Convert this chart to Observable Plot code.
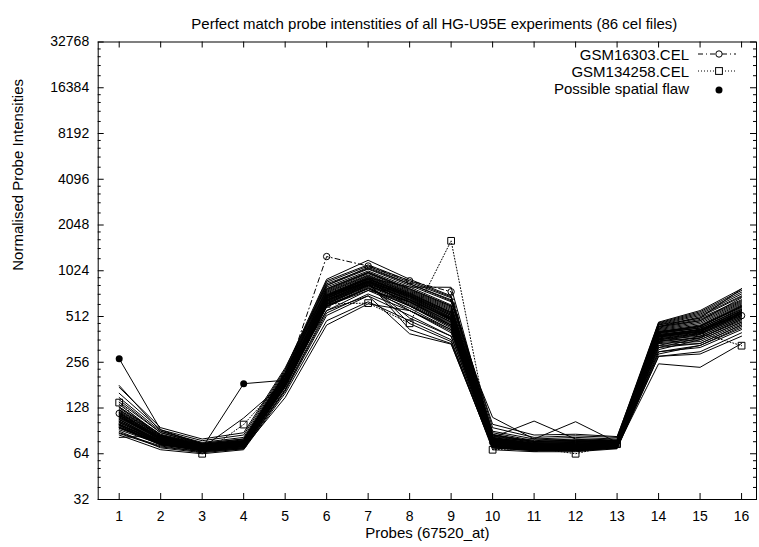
<!DOCTYPE html>
<html><head><meta charset="utf-8">
<script src="https://cdn.jsdelivr.net/npm/d3@7"></script>
<script src="https://cdn.jsdelivr.net/npm/@observablehq/plot@0.6"></script>
<style>body{margin:0;background:#fff;}</style>
</head><body><div id="chart"></div>
<script>
const title = "Perfect match probe intenstities of all HG-U95E experiments (86 cel files)";
const xLabel = "Probes (67520_at)";
const yLabel = "Normalised Probe Intensities";
const probes = [1, 2, 3, 4, 5, 6, 7, 8, 9, 10, 11, 12, 13, 14, 15, 16];
const yTicks = [32, 64, 128, 256, 512, 1024, 2048, 4096, 8192, 16384, 32768];
const legendLabels = ["GSM16303.CEL", "GSM134258.CEL", "Possible spatial flaw"];

// all other cel files (solid lines)
const bundle = [
  [95,76,68,72,180,620,820,640,470,74,70,70,72,360,380,500],
  [102,78,70,74,190,660,860,660,490,76,72,71,74,380,410,540],
  [110,80,71,75,195,700,900,700,520,78,73,73,75,400,430,580],
  [118,82,72,76,200,740,950,740,560,80,74,74,76,420,460,620],
  [125,84,73,77,210,780,1000,780,600,82,75,76,77,440,500,660],
  [88,72,66,70,170,560,760,580,420,72,68,68,70,330,340,450],
  [92,74,67,71,175,590,790,610,440,73,69,69,71,345,360,470],
  [130,86,74,78,215,820,1050,820,640,85,77,78,78,450,520,700],
  [140,88,75,80,220,860,1100,860,680,88,78,80,79,460,540,740],
  [100,75,69,73,185,640,840,650,480,75,71,70,73,370,400,520],
  [105,77,70,72,188,680,880,690,505,77,72,72,74,390,420,560],
  [115,79,71,74,192,700,870,600,450,74,70,71,73,350,390,510],
  [120,81,72,76,198,720,920,720,540,79,73,74,75,410,440,600],
  [98,73,68,71,178,600,800,560,400,72,70,69,72,320,370,480],
  [108,76,70,73,186,650,830,630,460,76,71,72,73,365,395,530],
  [112,80,71,75,194,690,910,710,530,78,74,73,75,395,430,570],
  [96,74,68,72,182,610,780,600,430,73,70,70,72,340,350,460],
  [135,85,73,78,212,760,980,760,580,81,75,75,76,430,480,640],
  [90,70,65,69,165,520,700,520,380,70,67,67,70,300,320,420],
  [85,68,64,68,160,480,640,480,360,68,66,66,69,280,290,380],
  [150,90,76,82,225,880,1120,880,690,90,80,82,80,465,550,760],
  [160,92,78,85,230,900,1200,900,700,95,82,84,82,470,560,780],
  [175,95,80,88,235,820,1080,840,650,100,85,86,83,440,510,690],
  [104,77,69,73,187,670,890,680,500,77,72,72,74,385,415,545],
  [114,79,70,74,191,690,870,670,495,76,73,72,74,375,405,535],
  [122,83,72,77,203,730,940,730,550,80,74,75,76,415,450,610],
  [94,75,67,72,179,615,810,620,450,73,70,69,72,355,370,490],
  [100,76,69,72,183,630,830,500,380,72,69,68,71,330,380,500],
  [107,78,70,73,189,655,850,460,350,71,68,68,71,310,360,470],
  [128,84,73,77,208,770,990,770,590,83,76,77,77,435,490,650],
  [112,82,72,75,196,680,860,420,340,70,67,67,70,290,330,440],
  [118,80,71,74,193,700,900,720,540,79,74,73,75,405,440,590],
  [96,74,67,70,176,600,760,640,450,74,70,70,72,350,370,490],
  [87,71,66,69,168,540,720,560,410,71,68,67,70,320,340,450],
  [145,88,74,79,218,840,1060,840,660,86,77,79,78,455,530,720],
  [108,79,71,74,190,670,870,690,510,77,72,73,74,385,420,555],
  [103,76,69,73,184,640,840,660,485,75,71,71,73,375,410,540],
  [116,81,72,76,199,710,930,730,545,80,73,74,75,405,445,600],
  [99,75,68,72,181,630,820,640,470,74,70,70,72,365,395,520],
  [124,83,73,77,205,750,960,750,570,81,75,76,76,425,470,630],
  [270,92,74,76,200,700,880,700,520,78,73,73,75,390,420,560],
  [105,78,70,185,195,680,870,680,500,77,72,72,74,380,410,540],
  [100,76,70,110,190,660,860,660,490,76,71,71,73,375,405,530],
  [82,84,70,73,180,620,820,640,470,74,70,70,72,360,390,510],
  [110,80,71,75,195,700,900,700,520,111,80,78,75,400,430,570],
  [115,80,72,76,198,710,910,710,530,82,105,80,76,405,440,590],
  [100,77,70,73,186,650,850,660,490,78,80,104,76,380,420,550],
  [120,82,72,75,195,560,700,394,337,70,68,67,70,300,330,430],
  [112,79,71,74,192,700,920,800,797,82,74,74,75,400,440,600],
  [98,74,68,72,178,600,780,600,440,72,69,69,71,250,237,340],
  [95,73,67,70,150,450,620,560,420,72,68,68,70,280,300,400],
  [130,85,74,78,210,780,1000,780,600,84,76,77,78,450,500,780],
  [180,90,75,80,215,800,1020,800,610,85,77,78,77,440,480,680]
];
const gsm16303 = [118,80,70,74,200,1270,1100,880,745,76,72,72,74,380,420,519];
const gsm134258 = [139,80,64,99.6,200,620,627,462,1611,68,70,64,74,360,400,329];
const flawProbes = [1, 4];
const flawValues = [270, 185];

const bundleRows = bundle.flatMap((s, i) => s.map((v, j) => ({id: i, probe: probes[j], value: v})));
const rowsA = gsm16303.map((v, j) => ({probe: probes[j], value: v}));
const rowsB = gsm134258.map((v, j) => ({probe: probes[j], value: v}));
const flawRows = flawProbes.map((p, i) => ({probe: p, value: flawValues[i]}));
const minorTicks = yTicks.slice(0, -1).flatMap(t => [1.2, 1.4, 1.6, 1.8].map(f => t * f));

const W = 759, H = 547, mL = 97.7, mR = 3, mT = 41.5, mB = 48;
const iW = W - mL - mR, iH = H - mT - mB;
const font = "'Liberation Sans', Arial, Helvetica, sans-serif";

const chart = Plot.plot({
  width: W, height: H,
  marginLeft: mL, marginRight: mR, marginTop: mT, marginBottom: mB,
  style: {fontFamily: font, fontSize: "14px", color: "black", background: "white", overflow: "visible"},
  x: {domain: [0.494, 16.36], ticks: probes, tickSize: 0, tickPadding: 12, tickFormat: d => String(d), label: null},
  y: {type: "log", base: 2, domain: [32, 32768], ticks: yTicks, tickSize: 0, tickPadding: 9, tickFormat: d => String(d), label: null},
  marks: [
    Plot.ruleY(yTicks, {y: d => d, insetRight: iW - 6, stroke: "black"}),
    Plot.ruleY(yTicks, {y: d => d, insetLeft: iW - 6, stroke: "black"}),
    Plot.ruleY(minorTicks, {y: d => d, insetRight: iW - 3, stroke: "black"}),
    Plot.ruleY(minorTicks, {y: d => d, insetLeft: iW - 3, stroke: "black"}),
    Plot.ruleX(probes, {x: d => d, insetTop: iH - 6, stroke: "black"}),
    Plot.ruleX(probes, {x: d => d, insetBottom: iH - 6, stroke: "black"}),
    Plot.line(bundleRows, {x: "probe", y: "value", z: "id", stroke: "black", strokeWidth: 1}),
    Plot.line(rowsA, {x: "probe", y: "value", stroke: "black", strokeWidth: 1, strokeDasharray: "5,3,1,3"}),
    Plot.dot(rowsA, {x: "probe", y: "value", r: 3.2, stroke: "black", fill: "none", strokeWidth: 1}),
    Plot.line(rowsB, {x: "probe", y: "value", stroke: "black", strokeWidth: 1, strokeDasharray: "1,2"}),
    Plot.dot(rowsB, {x: "probe", y: "value", symbol: "square", r: 3.8, stroke: "black", fill: "none", strokeWidth: 1}),
    Plot.dot(flawRows, {x: "probe", y: "value", r: 3.5, fill: "black", stroke: "none"}),
    Plot.frame({stroke: "black", strokeWidth: 1}),
    Plot.text([title], {text: d => d, frameAnchor: "top", dy: -24, dx: 7, fontSize: 15}),
    Plot.text([xLabel], {text: d => d, frameAnchor: "bottom", dy: 38, fontSize: 15}),
    Plot.text([yLabel], {text: d => d, frameAnchor: "left", rotate: -90, dx: -80.5, fontSize: 15})
  ]
});
document.getElementById("chart").appendChild(chart);

// legend (top right, inside the frame)
const svg = d3.select(chart);
const lg = svg.append("g").attr("font-family", font).attr("font-size", 15);
const rowsY = [54, 71, 88];
const textRight = 689, sx1 = 698, sx2 = 736, sm = 719;
legendLabels.forEach((t, i) => {
  lg.append("text").attr("x", textRight).attr("y", rowsY[i]).attr("text-anchor", "end")
    .attr("dominant-baseline", "central").attr("fill", "black").text(t);
});
lg.append("line").attr("x1", sx1).attr("x2", sx2).attr("y1", rowsY[0]).attr("y2", rowsY[0])
  .attr("stroke", "black").attr("stroke-dasharray", "5,3,1,3");
lg.append("circle").attr("cx", sm).attr("cy", rowsY[0]).attr("r", 3.2).attr("fill", "white").attr("stroke", "black");
lg.append("line").attr("x1", sx1).attr("x2", sx2).attr("y1", rowsY[1]).attr("y2", rowsY[1])
  .attr("stroke", "black").attr("stroke-dasharray", "1,2");
lg.append("rect").attr("x", sm - 3.4).attr("y", rowsY[1] - 3.4).attr("width", 6.8).attr("height", 6.8)
  .attr("fill", "white").attr("stroke", "black");
lg.append("circle").attr("cx", sm).attr("cy", rowsY[2] + 2).attr("r", 3.5).attr("fill", "black");
</script>
</body></html>
